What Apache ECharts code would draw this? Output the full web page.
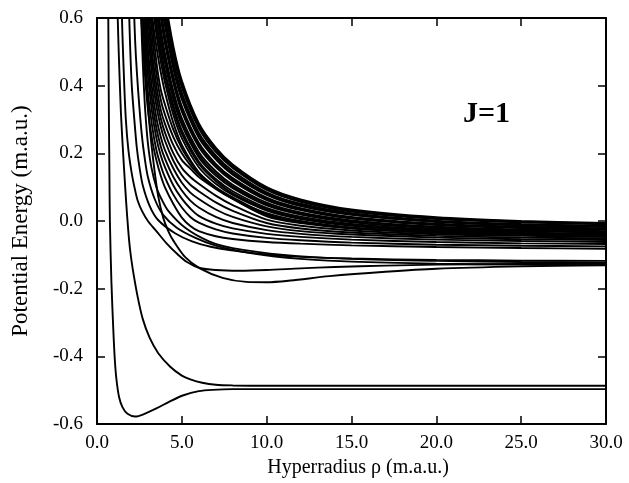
<!DOCTYPE html>
<html><head><meta charset="utf-8">
<script src="https://cdn.jsdelivr.net/npm/echarts@6/dist/echarts.min.js"></script>
<style>html,body{margin:0;padding:0;background:#fff}#c{width:629px;height:483px}</style>
</head><body><div id="c"></div>
<script>
// ---- data: hyperradius rho (m.a.u.), potential energy (m.a.u.) ----
const xTickValues = [0, 5, 10, 15, 20, 25, 30];
const yTickValues = [-0.6, -0.4, -0.2, 0.0, 0.2, 0.4, 0.6];

// lowest curve (with the well near rho = 2.2)
const curveA = [[0.66,0.64],[0.7,0.32],[0.73,0.15],[0.76,0.0],[0.85,-0.18],[0.96,-0.32],[1.05,-0.41],[1.15,-0.47],[1.3,-0.52],[1.5,-0.55],[1.8,-0.57],[2.25,-0.578],[2.8,-0.57],[3.5,-0.554],[4.3,-0.533],[5.1,-0.515],[6.0,-0.503],[6.8,-0.499],[8,-0.497],[10,-0.497],[30,-0.497]];
// second curve, approaching -0.49 from above
const curveB = [[1.2,0.64],[1.25,0.55],[1.3,0.47],[1.41,0.32],[1.5,0.235],[1.6,0.15],[1.72,0.055],[1.84,-0.027],[1.95,-0.085],[2.1,-0.14],[2.4,-0.225],[2.7,-0.29],[3.1,-0.345],[3.6,-0.39],[4.3,-0.43],[5.0,-0.457],[5.5,-0.468],[6.2,-0.478],[7.0,-0.484],[8.0,-0.486],[10,-0.487],[20,-0.487],[30,-0.487]];
// curves going to about -0.125
const curveC = [[2.72,0.64],[2.8,0.52],[2.9,0.42],[3.05,0.31],[3.2,0.23],[3.4,0.145],[3.6,0.075],[3.9,0.01],[4.2,-0.03],[4.5,-0.058],[5.2,-0.107],[6.06,-0.14],[7.4,-0.168],[8.8,-0.18],[10,-0.181],[11.4,-0.176],[13.7,-0.163],[17,-0.15],[20,-0.141],[25,-0.134],[30,-0.13]];
const curveD = [[1.45,0.64],[1.5,0.55],[1.6,0.41],[1.7,0.30],[1.85,0.21],[2.05,0.14],[2.25,0.09],[2.4,0.06],[2.65,0.03],[3.0,0.0],[3.5,-0.03],[4.1,-0.066],[4.7,-0.096],[5.3,-0.121],[6.06,-0.139],[7.0,-0.145],[8.4,-0.147],[10,-0.145],[12,-0.140],[14,-0.136],[17,-0.132],[20,-0.129],[25,-0.127],[30,-0.126]];
const curveE1 = [[1.88,0.64],[1.95,0.52],[2.05,0.40],[2.2,0.30],[2.35,0.215],[2.5,0.16],[2.7,0.105],[3.1,0.045],[3.6,0.003],[4.6,-0.036],[5.6,-0.06],[6.7,-0.076],[7.8,-0.086],[10,-0.099],[12,-0.106],[15,-0.111],[20,-0.115],[25,-0.117],[30,-0.118]];
const curveE2 = [[2.17,0.64],[2.25,0.53],[2.35,0.44],[2.5,0.335],[2.65,0.25],[2.8,0.19],[3.0,0.13],[3.4,0.065],[3.9,0.018],[4.7,-0.02],[5.8,-0.05],[7,-0.073],[8.5,-0.09],[10.5,-0.105],[12,-0.112],[15,-0.12],[20,-0.126],[25,-0.129],[30,-0.131]];
const curveE3 = [[2.58,0.64],[2.65,0.53],[2.75,0.41],[2.85,0.32],[3.0,0.23],[3.2,0.16],[3.5,0.1],[3.8,0.065],[4.2,0.03],[5.2,-0.02],[6.6,-0.06],[8,-0.08],[11,-0.1],[15,-0.112],[20,-0.118],[25,-0.121],[30,-0.123]];

// steep curves of the lower part of the bundle (common rho samples)
const steepRho = [2.6, 2.8, 3.0, 3.25, 3.5, 3.75, 4.0, 4.5, 5, 5.5, 6, 7, 8, 10, 12, 15, 20, 25, 30];
const s1 = [0.61,0.45,0.33,0.24,0.18,0.135,0.10,0.05,0.01,-0.015,-0.03,-0.045,-0.053,-0.062,-0.067,-0.072,-0.077,-0.080,-0.082];
const s2 = [0.68,0.51,0.38,0.28,0.21,0.165,0.13,0.078,0.04,0.012,-0.005,-0.025,-0.037,-0.05,-0.057,-0.064,-0.07,-0.073,-0.075];
const s3 = [0.75,0.56,0.43,0.32,0.245,0.195,0.16,0.105,0.066,0.037,0.015,-0.008,-0.022,-0.038,-0.047,-0.055,-0.062,-0.066,-0.068];
const s4 = [null,0.61,0.47,0.355,0.275,0.222,0.185,0.13,0.09,0.06,0.04,0.012,-0.006,-0.027,-0.038,-0.047,-0.055,-0.059,-0.062];
const s5 = [null,0.68,0.51,0.39,0.305,0.25,0.21,0.155,0.113,0.084,0.065,0.034,0.012,-0.016,-0.03,-0.04,-0.049,-0.054,-0.056];
const s6 = [null,0.74,0.56,0.43,0.34,0.28,0.238,0.178,0.135,0.107,0.088,0.055,0.03,-0.006,-0.022,-0.034,-0.044,-0.049,-0.051];
const s7 = [null,null,0.61,0.465,0.37,0.305,0.262,0.2,0.157,0.13,0.11,0.075,0.047,0.004,-0.014,-0.028,-0.039,-0.044,-0.047];
const s8 = [null,0.86,0.66,0.5,0.4,0.33,0.288,0.224,0.18,0.155,0.13,0.095,0.065,0.014,-0.006,-0.022,-0.034,-0.04,-0.043];
const m1 = [null,null,0.72,0.545,0.435,0.36,0.315,0.248,0.2,0.165,0.137,0.097,0.067,0.017,-0.004,-0.021,-0.034,-0.04,-0.044];
const m2 = [null,null,0.78,0.59,0.47,0.39,0.345,0.27,0.215,0.175,0.142,0.1,0.07,0.02,-0.002,-0.02,-0.033,-0.04,-0.044];

// upper dense bundle (common rho samples)
const bandRho = [2.75, 3.0, 3.25, 3.5, 3.75, 4.0, 4.5, 5, 6, 7, 8, 10, 12, 15, 20, 25, 30];
const band1 = [null,null,null,null,null,0.659,0.517,0.415,0.289,0.217,0.167,0.100,0.064,0.034,0.011,0.000,-0.006];
const band1a = [null,null,null,null,null,0.645,0.505,0.405,0.281,0.211,0.162,0.096,0.060,0.031,0.008,-0.002,-0.008];
const band2 = [null,null,null,null,null,0.630,0.493,0.395,0.274,0.204,0.157,0.092,0.057,0.028,0.006,-0.004,-0.010];
const band3 = [null,null,null,null,0.694,0.607,0.474,0.379,0.261,0.194,0.148,0.085,0.051,0.023,0.001,-0.009,-0.014];
const band3a = [null,null,null,null,0.678,0.592,0.462,0.369,0.254,0.188,0.142,0.081,0.048,0.020,-0.001,-0.011,-0.016];
const band4 = [null,null,null,null,0.662,0.578,0.450,0.359,0.246,0.182,0.137,0.077,0.044,0.018,-0.003,-0.013,-0.018];
const band5 = [null,null,null,null,0.629,0.549,0.427,0.339,0.231,0.169,0.127,0.069,0.038,0.012,-0.008,-0.017,-0.022];
const band5a = [null,null,null,null,0.620,0.541,0.420,0.333,0.226,0.165,0.123,0.066,0.035,0.010,-0.010,-0.019,-0.024];
const band6 = [null,null,null,0.698,0.604,0.526,0.408,0.323,0.219,0.159,0.118,0.062,0.032,0.007,-0.012,-0.021,-0.026];
const band7 = [null,null,null,0.661,0.571,0.497,0.384,0.303,0.204,0.147,0.107,0.054,0.025,0.002,-0.017,-0.025,-0.030];
const band7a = [null,null,null,0.643,0.555,0.482,0.372,0.293,0.196,0.140,0.102,0.050,0.022,-0.001,-0.019,-0.028,-0.032];
const band8 = [null,null,null,0.625,0.538,0.468,0.360,0.284,0.188,0.134,0.097,0.046,0.019,-0.004,-0.022,-0.030,-0.034];
const band9 = [null,null,0.698,0.596,0.513,0.445,0.342,0.268,0.176,0.124,0.088,0.039,0.013,-0.009,-0.026,-0.034,-0.038];
const band9a = [null,null,0.678,0.578,0.497,0.431,0.330,0.258,0.169,0.118,0.082,0.035,0.009,-0.012,-0.028,-0.036,-0.040];
const band10 = [null,null,0.648,0.552,0.474,0.411,0.314,0.245,0.159,0.110,0.077,0.031,0.006,-0.014,-0.030,-0.037,-0.041];
const band11 = [null,0.720,0.606,0.515,0.442,0.382,0.290,0.225,0.144,0.098,0.066,0.023,0.000,-0.020,-0.034,-0.041,-0.045];

const labelText = 'J=1';
const xTitle = 'Hyperradius ρ (m.a.u.)';
const yTitle = 'Potential Energy (m.a.u.)';

// ---- build ----
function onGrid(grid) {
  return vals => {
    const out = [];
    grid.forEach((r, i) => { if (vals[i] !== null) out.push([r, vals[i]]); });
    return out;
  };
}
const allCurves = [curveA, curveB, curveC, curveD, curveE1, curveE2, curveE3]
  .concat([s1, s2, s3, s4, s5, s6, s7, s8, m1, m2].map(onGrid(steepRho)))
  .concat([band1, band1a, band2, band3, band3a, band4, band5, band5a, band6, band7, band7a,
           band8, band9, band9a, band10, band11].map(onGrid(bandRho)));

const FONT = '"Liberation Serif", "Times New Roman", serif';
const fmt = v => (Math.abs(v) < 1e-9 ? 0 : v).toFixed(1);

const baseX = {
  type: 'value', min: 0, max: 30, interval: 5,
  splitLine: { show: false },
  axisLine: { show: true, onZero: false, lineStyle: { color: '#000', width: 2 } },
  axisTick: { show: true, inside: true, length: 8, lineStyle: { color: '#000', width: 1.5 } }
};
const baseY = {
  type: 'value', min: -0.6, max: 0.6, interval: 0.2,
  splitLine: { show: false },
  axisLine: { show: true, onZero: false, lineStyle: { color: '#000', width: 2 } },
  axisTick: { show: true, inside: true, length: 8, lineStyle: { color: '#000', width: 1.5 } }
};

const chart = echarts.init(document.getElementById('c'), null, { renderer: 'canvas' });
chart.setOption({
  animation: false,
  backgroundColor: '#fff',
  grid: { left: 97, right: 23, top: 18, bottom: 59 },
  xAxis: [
    Object.assign({}, baseX, {
      position: 'bottom',
      axisLabel: { formatter: fmt, color: '#000', fontFamily: FONT, fontSize: 19, margin: 10 },
      name: xTitle, nameLocation: 'middle', nameGap: 30,
      nameTextStyle: { color: '#000', fontFamily: FONT, fontSize: 20, padding: [0, 0, 0, 13] }
    }),
    Object.assign({}, baseX, { position: 'top', axisLabel: { show: false } })
  ],
  yAxis: [
    Object.assign({}, baseY, {
      position: 'left',
      axisLabel: { formatter: fmt, color: '#000', fontFamily: FONT, fontSize: 19, margin: 14 },
      name: yTitle, nameLocation: 'middle', nameGap: 65, nameRotate: 90,
      nameTextStyle: { color: '#000', fontFamily: FONT, fontSize: 23 }
    }),
    Object.assign({}, baseY, { position: 'right', axisLabel: { show: false } })
  ],
  graphic: [{
    type: 'text', left: 463, top: 99,
    style: { text: labelText, font: 'bold 30px ' + FONT, fill: '#000' }
  }],
  series: allCurves.map(d => ({
    type: 'line', data: d, xAxisIndex: 0, yAxisIndex: 0,
    showSymbol: false, symbol: 'none', smooth: 0.3, clip: true, silent: true,
    lineStyle: { color: '#000', width: 1.9 }
  }))
});
</script>
</body></html>
